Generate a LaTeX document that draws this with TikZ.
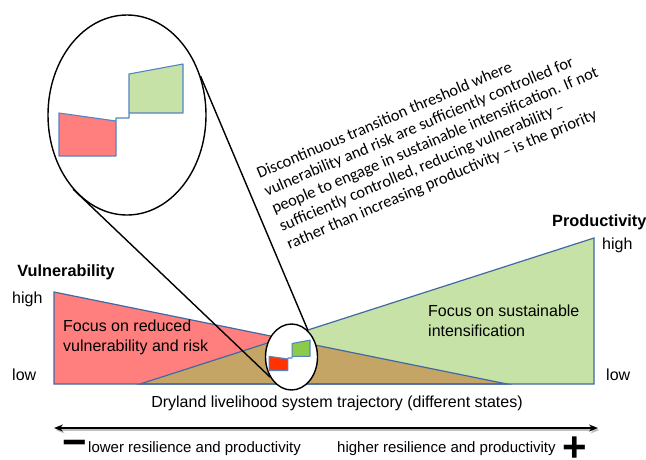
\documentclass[tikz,border=0pt]{standalone}
\usepackage{fontspec}
\setmainfont{Liberation Sans}
\newfontfamily\notefont{Carlito}
\usepackage{xcolor}
\usetikzlibrary{shapes,arrows.meta,positioning,calc}

\definecolor{redfill}{RGB}{255,127,127}
\definecolor{greenfill}{RGB}{199,226,166}
\definecolor{brownfill}{RGB}{197,165,101}
\definecolor{triblue}{RGB}{66,104,164}
\definecolor{stepblue}{RGB}{84,132,196}
\definecolor{redspot}{RGB}{255,51,0}
\definecolor{greenspot}{RGB}{140,203,74}

\tikzset{
  lens/.style={shape=ellipse,draw=black,line width=1.4pt,fill=white,inner sep=0pt},
  edgeblue/.style={draw=triblue,line width=1.2pt},
  axistitle/.style={font=\bfseries\fontsize{16.3}{18}\selectfont,inner sep=0pt},
  lbl/.style={font=\fontsize{16}{18}\selectfont,inner sep=0pt},
  focus/.style={font=\fontsize{16}{20}\selectfont,inner sep=0pt,align=left},
  small/.style={font=\fontsize{15}{17}\selectfont,inner sep=0pt},
  sign/.style={font=\bfseries\fontsize{42}{42}\selectfont,inner sep=0pt},
  calloutnote/.style={font=\notefont\fontsize{16.4}{19.2}\selectfont,inner sep=0pt,align=left,
    execute at begin node={\setlength{\baselineskip}{19.2pt}}}
}

\begin{document}
\begin{tikzpicture}[x=1pt,y=-1pt]
  \useasboundingbox (0,0) rectangle (646,459);

  % the two wedges
  \coordinate (vtop) at (54,292);
  \coordinate (vbot) at (54,384);
  \coordinate (vend) at (507,384);
  \coordinate (pstart) at (140,384);
  \coordinate (ptop) at (594,238);
  \coordinate (pbot) at (594,384);
  \coordinate (cross) at (intersection of vtop--vend and pstart--ptop);

  \fill[redfill] (vtop) -- (vend) -- (vbot) -- cycle;
  \fill[greenfill] (pstart) -- (ptop) -- (pbot) -- cycle;
  \fill[brownfill] (pstart) -- (cross) -- (vend) -- cycle;
  \draw[edgeblue] (vtop) -- (vend) -- (vbot) -- cycle;
  \draw[edgeblue] (pstart) -- (ptop) -- (pbot) -- cycle;

  % magnifier
  \node[lens,minimum width=158,minimum height=200] (zoomlens) at (127,115) {};
  \node[lens,minimum width=52,minimum height=66] (spot) at (291.5,357) {};
  \path [-,line width=1.4pt](zoomlens.-126) edge (spot.-137);
  \path [-,line width=1.4pt](zoomlens.28.7) edge (spot.58.6);

  \foreach \cx/\cy/\s/\rc/\gc in {127/115/1/redfill/greenfill, 291.5/357/0.33/redspot/greenspot}{
    \begin{scope}[shift={(\cx,\cy)},scale=\s]
      \fill[\rc] (-68,-2) -- (-11,6) -- (-11,41) -- (-68,41) -- cycle;
      \fill[\gc] (2,-41) -- (56,-51) -- (56,-2) -- (2,-2) -- cycle;
      \draw[stepblue,line width=1.1pt,line join=round]
        (2,-2) -- (2,-41) -- (56,-51) -- (56,-2) -- (2,-2) -- (2,3) -- (-11,3)
        -- (-11,41) -- (-68,41) -- (-68,-2) -- (-11,6);
    \end{scope}
  }

  % labels
  \node[axistitle] (vuln) at (66,272) {Vulnerability};
  \node[lbl,anchor=west] (vhigh) at (12,299) {high};
  \node[lbl,anchor=west] (vlow) at (12,375) {low};
  \node[axistitle,anchor=west] (prod) at (552,222) {Productivity};
  \node[lbl,anchor=west] (phigh) at (602,245) {high};
  \node[lbl,anchor=west] (plow) at (606,375) {low};
  \node[focus,anchor=west] (reduce) at (63,337) {Focus on reduced\\vulnerability and risk};
  \node[focus,anchor=west] (intens) at (428,320.5) {Focus on sustainable\\intensification};
  \node[calloutnote,rotate=23,anchor=north west] (note) at (255,168)
    {Discontinuous transition threshold where\\
     vulnerability and risk are sufficiently controlled for\\
     people to engage in sustainable intensification. If not\\
     sufficiently controlled, reducing vulnerability –\\
     rather than increasing productivity – is the priority};

  % trajectory axis
  \node[lbl] (traj) at (337,403) {Dryland livelihood system trajectory (different states)};
  \coordinate (leftend) at (54,428);
  \coordinate (rightend) at (598,428);
  \draw[black!25,line width=2pt,{Stealth[length=9pt,width=7pt]}-{Stealth[length=9pt,width=7pt]}]
    ([shift={(1.5,2)}]leftend) -- ([shift={(1.5,2)}]rightend);
  \draw[line width=1.3pt,{Stealth[length=9pt,width=7pt]}-{Stealth[length=9pt,width=7pt]}] (leftend) -- (rightend);

  \node[sign] (minus) at (75,448) {−};
  \node[small,anchor=west] (lower) at (88,449) {lower resilience and productivity};
  \node[small,anchor=west] (higher) at (337,449) {higher resilience and productivity};
  \node[sign] (plus) at (575,449) {+};
\end{tikzpicture}
\end{document}
